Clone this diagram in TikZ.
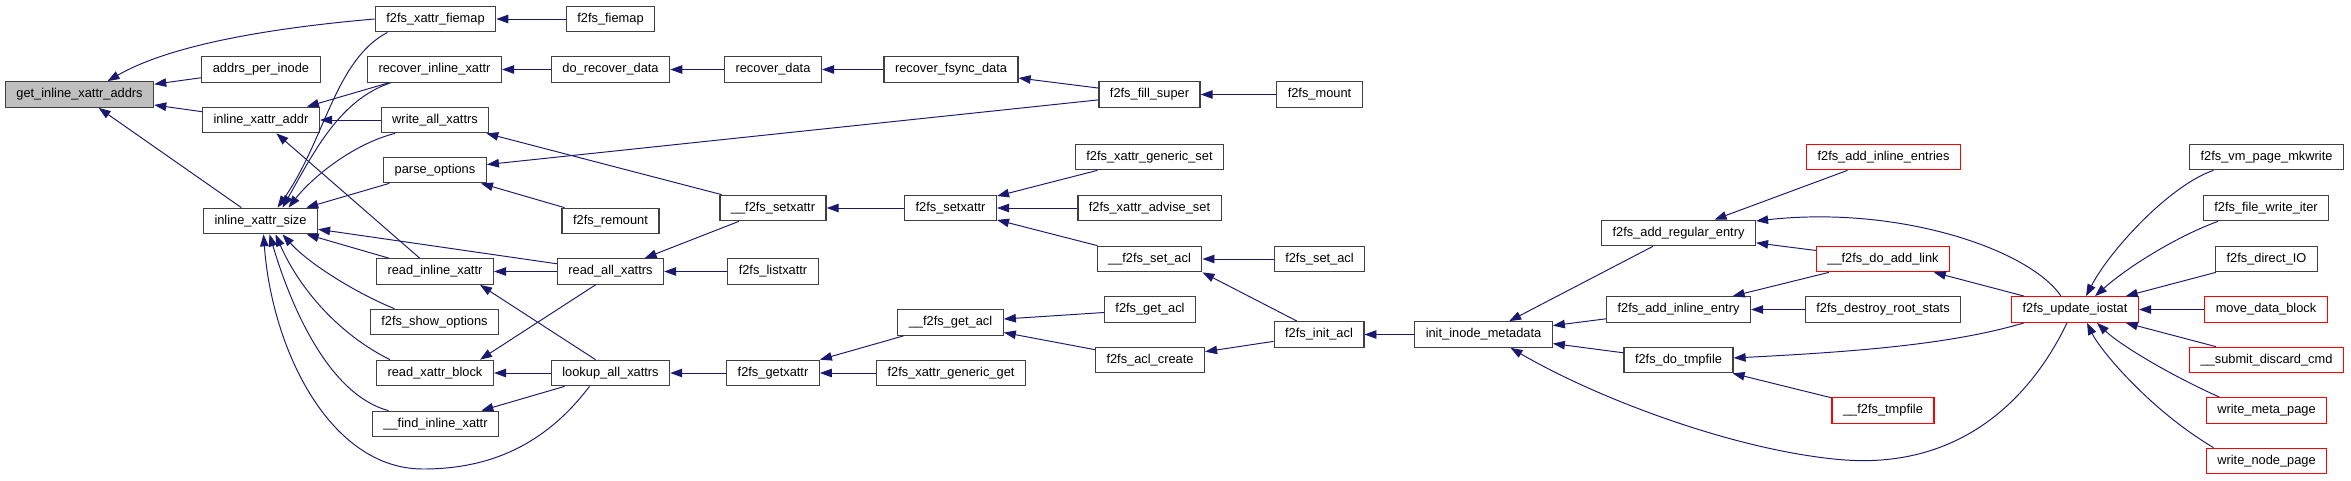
\documentclass[tikz,border=0pt]{standalone}
\usepackage{fontspec}
\setmainfont{Liberation Sans}
\usepackage{tikz}
\usetikzlibrary{arrows.meta, calc}
\definecolor{edgeblue}{HTML}{191970}
\definecolor{boxgray}{HTML}{404040}
\definecolor{selgray}{HTML}{BFBFBF}
\tikzset{
	fnbox/.style={draw=boxgray, line width=0.7pt, minimum height=0.51cm, inner xsep=0.22cm, inner ysep=0pt, font=\fontsize{7.3}{8.8}\selectfont},
	fnred/.style={fnbox, draw=red},
	fnsel/.style={fnbox, fill=selgray},
	callarr/.style={edgeblue, line width=0.55pt, -{Triangle[length=0.24cm, width=0.17cm]}},
}

\begin{document}
\begin{tikzpicture}[x=0.02cm, y=-0.02cm]
				\useasboundingbox (0,0) rectangle (2351,480);
				% Selected function
				\node[fnsel] (gixa) at (79.5,94.5) {get\_inline\_xattr\_addrs};
				% Direct callers
				\node[fnbox] (addrs) at (261,69.5) {addrs\_per\_inode};
				\node[fnbox] (ixaddr) at (261,120) {inline\_xattr\_addr};
				\node[fnbox] (ixsize) at (260.5,221) {inline\_xattr\_size};
				% Third column
				\node[fnbox] (xfiemap) at (435.5,19) {f2fs\_xattr\_fiemap};
				\node[fnbox] (recinline) at (434.5,69.5) {recover\_inline\_xattr};
				\node[fnbox] (writeall) at (435,120) {write\_all\_xattrs};
				\node[fnbox] (parseopt) at (435,170) {parse\_options};
				\node[fnbox] (readinline) at (435,271.5) {read\_inline\_xattr};
				\node[fnbox] (showopt) at (434.5,322) {f2fs\_show\_options};
				\node[fnbox] (readblock) at (435,373) {read\_xattr\_block};
				\node[fnbox] (findinline) at (435.5,424) {\_\_find\_inline\_xattr};
				% Fourth and fifth columns
				\node[fnbox] (fiemap) at (610.5,19) {f2fs\_fiemap};
				\node[fnbox] (dorecover) at (610.5,69.5) {do\_recover\_data};
				\node[fnbox] (remount) at (610.5,221) {f2fs\_remount};
				\node[fnbox] (readall) at (610.5,271.5) {read\_all\_xattrs};
				\node[fnbox] (lookup) at (610.5,373) {lookup\_all\_xattrs};
				\node[fnbox] (recdata) at (773,69.5) {recover\_data};
				\node[fnbox] (setxattrint) at (773,208) {\_\_f2fs\_setxattr};
				\node[fnbox] (listx) at (773,271.5) {f2fs\_listxattr};
				\node[fnbox] (getx) at (773,373) {f2fs\_getxattr};
				% Sixth to eighth columns
				\node[fnbox] (recfsync) at (951,69.5) {recover\_fsync\_data};
				\node[fnbox] (setx) at (950.5,208) {f2fs\_setxattr};
				\node[fnbox] (getaclint) at (950.5,322.5) {\_\_f2fs\_get\_acl};
				\node[fnbox] (genget) at (951,373) {f2fs\_xattr\_generic\_get};
				\node[fnbox] (fillsuper) at (1149.5,94.5) {f2fs\_fill\_super};
				\node[fnbox] (genset) at (1149.5,157) {f2fs\_xattr\_generic\_set};
				\node[fnbox] (advset) at (1149.5,208) {f2fs\_xattr\_advise\_set};
				\node[fnbox] (setaclint) at (1149.5,259) {\_\_f2fs\_set\_acl};
				\node[fnbox] (getacl) at (1150,309.5) {f2fs\_get\_acl};
				\node[fnbox] (aclcreate) at (1150,360) {f2fs\_acl\_create};
				\node[fnbox] (mount) at (1319.5,94.5) {f2fs\_mount};
				\node[fnbox] (setacl) at (1319.5,259) {f2fs\_set\_acl};
				\node[fnbox] (initacl) at (1319,334.5) {f2fs\_init\_acl};
				% Directory side
				\node[fnbox] (initmeta) at (1483.5,334.5) {init\_inode\_metadata};
				\node[fnbox] (addreg) at (1678.5,233) {f2fs\_add\_regular\_entry};
				\node[fnbox] (addinl) at (1678.5,309.5) {f2fs\_add\_inline\_entry};
				\node[fnbox] (dotmp) at (1678.5,360) {f2fs\_do\_tmpfile};
				\node[fnred] (addents) at (1883.5,157) {f2fs\_add\_inline\_entries};
				\node[fnred] (doadd) at (1883,259) {\_\_f2fs\_do\_add\_link};
				\node[fnbox] (destroy) at (1883,309.5) {f2fs\_destroy\_root\_stats};
				\node[fnred] (tmpint) at (1883,410.5) {\_\_f2fs\_tmpfile};
				% iostat and its callers
				\node[fnred] (iostat) at (2075,309.5) {f2fs\_update\_iostat};
				\node[fnbox] (mkwrite) at (2266.5,157) {f2fs\_vm\_page\_mkwrite};
				\node[fnbox] (writeiter) at (2266,208) {f2fs\_file\_write\_iter};
				\node[fnbox] (directio) at (2266.5,259) {f2fs\_direct\_IO};
				\node[fnred] (movedata) at (2266,309.5) {move\_data\_block};
				\node[fnred] (discard) at (2266.5,360) {\_\_submit\_discard\_cmd};
				\node[fnred] (wmeta) at (2266.5,410.5) {write\_meta\_page};
				\node[fnred] (wnode) at (2266.5,461) {write\_node\_page};
				% Calls into get_inline_xattr_addrs
				\draw[callarr] (xfiemap.west) .. controls (270,28) and (170,45) .. ($(gixa.north)+(28,0)$);
				\draw[callarr] (addrs) -- (gixa);
				\draw[callarr] (ixaddr) -- (gixa);
				\draw[callarr] (ixsize) -- (gixa);
				% Calls into inline_xattr_addr
				\draw[callarr] (recinline) -- (ixaddr);
				\draw[callarr] (writeall) -- (ixaddr);
				\draw[callarr] (readinline) -- (ixaddr);
				% Calls into inline_xattr_size
				\draw[callarr] ($(xfiemap.south)+(-48,0)$) .. controls (335,60) and (325,140) .. ($(ixsize.north)+(17,0)$);
				\draw[callarr] ($(recinline.south)+(-44,0)$) .. controls (340,100) and (315,150) .. ($(ixsize.north)+(22,0)$);
				\draw[callarr] ($(writeall.south)+(-40,0)$) .. controls (350,145) and (310,180) .. ($(ixsize.north)+(28,0)$);
				\draw[callarr] (parseopt) -- (ixsize);
				\draw[callarr] (readall) -- (ixsize);
				\draw[callarr] (readinline) -- (ixsize);
				\draw[callarr] ($(showopt.north)+(-40,0)$) .. controls (360,295) and (310,265) .. ($(ixsize.south)+(22,0)$);
				\draw[callarr] ($(readblock.north)+(-45,0)$) .. controls (340,335) and (300,290) .. ($(ixsize.south)+(15,0)$);
				\draw[callarr] ($(findinline.north)+(-47,0)$) .. controls (330,395) and (292,310) .. ($(ixsize.south)+(9,0)$);
				\draw[callarr] ($(lookup.south)+(-21,0)$) .. controls (545,445) and (490,469) .. (423,469) .. controls (330,469) and (272,350) .. ($(ixsize.south)+(3,0)$);
				% Xattr and mount side
				\draw[callarr] (fiemap) -- (xfiemap);
				\draw[callarr] (dorecover) -- (recinline);
				\draw[callarr] (recdata) -- (dorecover);
				\draw[callarr] (recfsync) -- (recdata);
				\draw[callarr] (fillsuper) -- (recfsync);
				\draw[callarr] (fillsuper) -- (parseopt);
				\draw[callarr] (mount) -- (fillsuper);
				\draw[callarr] (remount) -- (parseopt);
				\draw[callarr] (setxattrint) -- (writeall);
				\draw[callarr] (setxattrint) -- (readall);
				\draw[callarr] (readall) -- (readinline);
				\draw[callarr] ($(lookup.north)+(-15,0)$) -- ($(readinline.south)+(45,0)$);
				\draw[callarr] ($(readall.south)+(-15,0)$) -- ($(readblock.north)+(45,0)$);
				\draw[callarr] (lookup) -- (readblock);
				\draw[callarr] (lookup) -- (findinline);
				\draw[callarr] (listx) -- (readall);
				\draw[callarr] (setx) -- (setxattrint);
				\draw[callarr] (genset) -- (setx);
				\draw[callarr] (advset) -- (setx);
				\draw[callarr] (setaclint) -- (setx);
				\draw[callarr] (getx) -- (lookup);
				\draw[callarr] (getaclint) -- (getx);
				\draw[callarr] (genget) -- (getx);
				\draw[callarr] (getacl) -- (getaclint);
				\draw[callarr] (aclcreate) -- (getaclint);
				\draw[callarr] (setacl) -- (setaclint);
				\draw[callarr] ($(initacl.north)+(-22,0)$) -- (setaclint.south east);
				\draw[callarr] (initacl) -- (aclcreate);
				\draw[callarr] (initmeta) -- (initacl);
				% Directory side
				\draw[callarr] (addreg) -- (initmeta);
				\draw[callarr] (addinl) -- (initmeta);
				\draw[callarr] (dotmp) -- (initmeta);
				\draw[callarr] ($(iostat.south)+(-8,0)$) .. controls (2030,400) and (1960,468) .. (1845,460) .. controls (1740,452) and (1600,400) .. ($(initmeta.south)+(27,0)$);
				\draw[callarr] (addents) -- (addreg);
				\draw[callarr] (doadd) -- (addreg);
				\draw[callarr] ($(iostat.north)+(-14,0)$) .. controls (2030,250) and (1900,205) .. ($(addreg.east)+(0,-12)$);
				\draw[callarr] (doadd) -- (addinl);
				\draw[callarr] (destroy) -- (addinl);
				\draw[callarr] ($(iostat.south west)+(13,0)$) .. controls (1950,345) and (1850,352) .. ($(dotmp.east)+(0,-2)$);
				\draw[callarr] (tmpint) -- (dotmp);
				\draw[callarr] (iostat) -- (doadd);
				% Calls into f2fs_update_iostat
				\draw[callarr] ($(mkwrite.south)+(-53,0)$) .. controls (2170,185) and (2110,250) .. ($(iostat.north)+(11,0)$);
				\draw[callarr] ($(writeiter.south)+(-48,0)$) .. controls (2180,235) and (2130,265) .. ($(iostat.north)+(20,0)$);
				\draw[callarr] (directio) -- (iostat);
				\draw[callarr] (movedata) -- (iostat);
				\draw[callarr] (discard) -- (iostat);
				\draw[callarr] ($(wmeta.north)+(-47,0)$) .. controls (2170,375) and (2120,345) .. ($(iostat.south)+(22,0)$);
				\draw[callarr] ($(wnode.north)+(-53,0)$) .. controls (2150,410) and (2100,350) .. ($(iostat.south)+(12,0)$);
			\end{tikzpicture}
\end{document}
